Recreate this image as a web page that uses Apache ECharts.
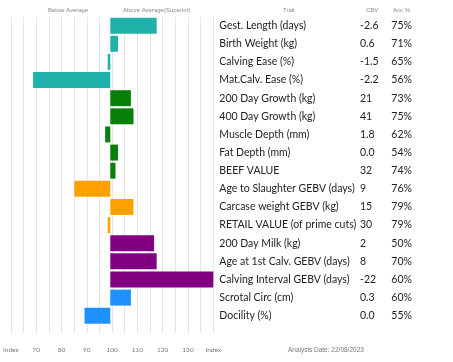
<!DOCTYPE html>
<html><head><meta charset="utf-8">
<script src="https://cdn.jsdelivr.net/npm/echarts@6/dist/echarts.min.js"></script>
<style>html,body{margin:0;padding:0;background:#fff}#c{width:453px;height:362px}</style>
</head><body><div id="c"></div>
<script>
const traits = ["Gest. Length (days)","Birth Weight (kg)","Calving Ease (%)","Mat.Calv. Ease (%)","200 Day Growth (kg)","400 Day Growth (kg)","Muscle Depth (mm)","Fat Depth (mm)","BEEF VALUE","Age to Slaughter GEBV (days)","Carcase weight GEBV (kg)","RETAIL VALUE (of prime cuts)","200 Day Milk (kg)","Age at 1st Calv. GEBV (days)","Calving Interval GEBV (days)","Scrotal Circ (cm)","Docility (%)"];
const cbv = ["-2.6","0.6","-1.5","-2.2","21","41","1.8","0.0","32","9","15","30","2","8","-22","0.3","0.0"];
const acc = ["75%","71%","65%","56%","73%","75%","62%","54%","74%","76%","79%","79%","50%","70%","60%","60%","55%"];
const indexValues = [118,103,99,70,108,109,98,103,102,86,109,99,117,118,140,108,90];
const groups = [0,0,0,0,1,1,1,1,1,2,2,2,3,3,3,4,4];
const groupColors = ["#20B2AA","#087F08","#FFA000","#800080","#1E90FF"];
const tickLabels = {60:"Index",70:"70",80:"80",90:"90",100:"100",110:"110",120:"120",130:"130",140:"Index"};

const chart = echarts.init(document.getElementById('c'), null, {renderer:'canvas'});
const L = 7.3, W = 206;
const font = "Lato, 'Open Sans', sans-serif";
const catAxis = (extra) => Object.assign({
  type:'category', gridIndex:0, data:traits, inverse:true, position:'right',
  axisLine:{show:false}, axisTick:{show:false}, splitLine:{show:false}
}, extra);
chart.setOption({
  animation:false,
  grid:[
    {left:L, width:W, top:16.6, height:308.2},
    {left:L, width:W, top:17, height:316}
  ],
  xAxis:[
    {type:'value', gridIndex:0, min:-40, max:40, interval:5, show:false, splitLine:{show:false}},
    {type:'value', gridIndex:1, min:-40, max:40, interval:5,
     axisLine:{show:false}, axisTick:{show:false},
     splitLine:{show:true, lineStyle:{color:'#e6e6e6', width:1}},
     axisLabel:{margin:13, fontSize:6.5, color:'#777', fontFamily:font,
       formatter:v => { const k = Math.round(v+100); return tickLabels[k] !== undefined ? tickLabels[k] : ''; }}}
  ],
  yAxis:[
    catAxis({axisLabel:{margin:6, align:'left', fontSize:10.5, color:'#222', fontFamily:font}}),
    catAxis({offset:140.7, axisLabel:{margin:6, align:'left', fontSize:10.5, color:'#222', fontFamily:font, formatter:(v,i)=>cbv[i]}}),
    catAxis({offset:172, axisLabel:{margin:6, align:'left', fontSize:10.5, color:'#222', fontFamily:font, formatter:(v,i)=>acc[i]}}),
    {type:'category', gridIndex:1, data:[''], show:false}
  ],
  series:[{
    type:'bar', xAxisIndex:0, yAxisIndex:0, barCategoryGap:'12%',
    data: indexValues.map((v,i)=>({value:v-100, itemStyle:{color:groupColors[groups[i]]}}))
  }],
  graphic:[
    {type:'text', left:48, top:7, style:{text:'Below Average', fontSize:6, fill:'#888', font:'6px '+font}},
    {type:'text', left:123, top:7, style:{text:'Above Average(Superior)', fontSize:6, fill:'#888', font:'6px '+font}},
    {type:'text', left:283, top:7, style:{text:'Trait', fontSize:6, fill:'#888', font:'6px '+font}},
    {type:'text', left:366, top:7, style:{text:'CBV', fontSize:6, fill:'#888', font:'6px '+font}},
    {type:'text', left:393, top:7, style:{text:'Acc %', fontSize:6, fill:'#888', font:'6px '+font}},
    {type:'text', left:288, top:347, style:{text:'Analysis Date: 22/08/2023', fontSize:6.5, fill:'#777', font:'6.5px '+font}}
  ]
});
</script></body></html>
